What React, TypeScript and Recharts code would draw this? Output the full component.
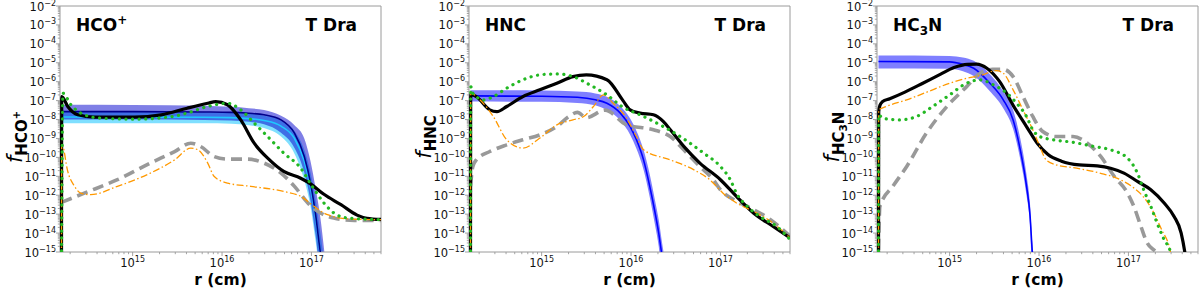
import React from 'react';
import { ComposedChart, Line, Area, XAxis, YAxis, ReferenceArea } from 'recharts';

type Pt = [number, number];
type Band = [number, number, number, number]; // r, low, mid, high

const R_MIN = 1.54e14;
const R_MAX = 6.0e17;
const F_MIN = 1e-15;
const F_MAX = 1e-2;

const X_DECADES = [1e14, 1e15, 1e16, 1e17];
const Y_DECADES = [1e-15, 1e-14, 1e-13, 1e-12, 1e-11, 1e-10, 1e-9, 1e-8, 1e-7, 1e-6, 1e-5, 1e-4, 1e-3, 1e-2];
const MULTS = [1, 2, 3, 4, 5, 6, 7, 8, 9];

// ---- HCO+ ----
const HCO_BLACK: Pt[] = [
  [1.6e14, 1e-16], [1.61e14, 1.64e-7], [1.88e14, 4.9e-8], [2.43e14, 1.78e-8], [3.72e14, 1.33e-8],
  [1.05e15, 1.33e-8], [2.09e15, 1.78e-8], [4.07e15, 3.98e-8], [6.92e15, 7.24e-8], [8.51e15, 8.91e-8],
  [1.15e16, 6.03e-8], [1.62e16, 9.55e-9], [2.29e16, 5.62e-10], [3.24e16, 9.12e-11], [4.9e16, 1.82e-11],
  [7.59e16, 7.94e-12], [9.77e16, 3.98e-12], [1.38e17, 1.12e-12], [2.14e17, 3.16e-13], [3.24e17, 8.91e-14],
  [4.17e17, 6.03e-14], [6.1e17, 5.25e-14],
];
const HCO_GREEN: Pt[] = [
  [1.6e14, 1e-16], [1.66e14, 2.45e-7], [2.04e14, 6.03e-8], [2.88e14, 1.78e-8], [4.47e14, 1.17e-8],
  [1.05e15, 1.05e-8], [2.45e15, 1.32e-8], [4.07e15, 2.19e-8], [6.92e15, 4.9e-8], [1.15e16, 7.24e-8],
  [1.62e16, 3.24e-8], [2.29e16, 6.46e-9], [3.24e16, 1.26e-9], [4.9e16, 1.7e-10], [7.59e16, 2.69e-11],
  [1.02e17, 2.95e-12], [1.38e17, 3.89e-13], [1.78e17, 1.15e-13], [2.51e17, 6.31e-14], [6.1e17, 5.13e-14],
];
const HCO_GRAY: Pt[] = [
  [1.6e14, 4.17e-13], [2.88e14, 1.29e-12], [6.76e14, 6.61e-12], [1.58e15, 5.01e-11], [2.95e15, 2.04e-10],
  [4.47e15, 5.62e-10], [5.75e15, 3.8e-10], [8.13e15, 1.12e-10], [1.15e16, 8.13e-11], [1.91e16, 8.13e-11],
  [2.95e16, 5.01e-11], [4.57e16, 1.48e-11], [6.46e16, 2.95e-12], [9.12e16, 3.89e-13], [1.26e17, 1.15e-13],
  [1.78e17, 6.31e-14], [3.02e17, 4.68e-14], [6.1e17, 4.68e-14],
];
const HCO_ORANGE: Pt[] = [
  [1.6e14, 1e-16], [1.61e14, 4.68e-10], [1.66e14, 3.8e-10], [1.86e14, 2.24e-11], [2.24e14, 2.95e-12],
  [2.63e14, 1.29e-12], [3.39e14, 1.07e-12], [6.76e14, 2.95e-12], [1.58e15, 1.48e-11], [2.95e15, 7.41e-11],
  [4.47e15, 3.09e-10], [5.37e15, 2.51e-10], [6.92e15, 5.01e-11], [8.13e15, 1e-11], [1.15e16, 4.37e-12],
  [2.09e16, 2.95e-12], [4.9e16, 1.58e-12], [7.59e16, 8.71e-13], [1.07e17, 2.57e-13], [1.51e17, 9.33e-14],
  [2.75e17, 5.5e-14], [6.1e17, 5.13e-14],
];
const HCO_BAND: Band[] = [
  [1.6e14, 1e-8, 2.63e-8, 6.03e-8], [1e15, 1e-8, 2.63e-8, 5.89e-8], [6.31e15, 9.55e-9, 2.51e-8, 5.37e-8],
  [1.26e16, 8.91e-9, 2.4e-8, 4.68e-8], [2e16, 7.59e-9, 2.14e-8, 3.98e-8], [2.95e16, 5.62e-9, 1.78e-8, 3.16e-8],
  [4.57e16, 2e-9, 9.55e-9, 1.58e-8], [6.46e16, 3.16e-10, 1.91e-9, 5.01e-9], [8.32e16, 1.58e-11, 1.12e-10, 1e-9],
  [9.77e16, 5.01e-13, 4.37e-12, 6.31e-11], [1.12e17, 6.31e-15, 7.59e-14, 2e-12], [1.26e17, 1e-16, 9.33e-16, 6.31e-14],
  [1.41e17, 1e-16, 1e-16, 6.31e-16],
];
const HCO_BAND2: Band[] = [
  [1.6e14, 6.46e-9, 1.35e-8, 2.51e-8], [6.31e15, 6.31e-9, 1.32e-8, 2.4e-8], [1.26e16, 6.03e-9, 1.26e-8, 2.24e-8],
  [2e16, 5.01e-9, 1.12e-8, 2e-8], [2.95e16, 3.55e-9, 8.91e-9, 1.58e-8], [4.57e16, 1.26e-9, 4.47e-9, 8.91e-9],
  [6.46e16, 1.58e-10, 1e-9, 2.51e-9], [8.32e16, 6.31e-12, 6.31e-11, 2.51e-10], [9.77e16, 2.51e-13, 2.51e-12, 1.58e-11],
  [1.12e17, 3.16e-15, 5.01e-14, 5.01e-13], [1.26e17, 1e-16, 7.94e-16, 1e-14], [1.41e17, 1e-16, 1e-16, 1.58e-16],
];

// ---- HNC ----
const HNC_BLACK: Pt[] = [
  [1.6e14, 1e-16], [1.61e14, 2.2e-7], [1.86e14, 1.62e-7], [2.63e14, 3.24e-8], [3.16e14, 2.63e-8],
  [4.07e14, 4.9e-8], [6.17e14, 1.62e-7], [9.55e14, 3.72e-7], [1.48e15, 8.32e-7], [2.24e15, 1.86e-6],
  [3.16e15, 2.29e-6], [5.37e15, 1.26e-6], [8.13e15, 1e-7], [9.77e15, 3.24e-8], [1.26e16, 2.19e-8],
  [1.78e16, 1.78e-8], [2.29e16, 7.94e-9], [2.75e16, 2.88e-9], [3.89e16, 3.8e-10], [5.89e16, 5.01e-11],
  [1e17, 6.61e-12], [1.51e17, 8.71e-13], [2.34e17, 1.15e-13], [3.89e17, 2.24e-14], [6.03e17, 5.5e-15],
];
const HNC_GREEN: Pt[] = [
  [1.6e14, 1e-16], [1.61e14, 5.5e-7], [1.7e14, 2.45e-7], [2.24e14, 1.1e-7], [2.88e14, 1.62e-7],
  [4.07e14, 4.57e-7], [6.17e14, 1.26e-6], [9.55e14, 2.29e-6], [1.48e15, 2.57e-6], [2.24e15, 1.86e-6],
  [3.47e15, 6.76e-7], [5.37e15, 2e-7], [8.13e15, 4.47e-8], [1.26e16, 1.78e-8], [2.29e16, 4.27e-9],
  [3.55e16, 1.26e-9], [6.46e16, 1.7e-10], [1e17, 3.31e-11], [1.29e17, 6.61e-12], [1.51e17, 1.29e-12],
  [2e17, 2.57e-13], [2.75e17, 7.59e-14], [4.27e17, 2.24e-14], [6.03e17, 4.47e-15],
];
const HNC_GRAY: Pt[] = [
  [1.6e14, 3e-12], [1.7e14, 3.31e-11], [1.86e14, 7.41e-11], [2.63e14, 2.04e-10], [4.07e14, 4.57e-10],
  [6.17e14, 8.51e-10], [9.55e14, 1.55e-9], [1.48e15, 4.27e-9], [2e15, 1.41e-8], [2.51e15, 2.4e-8],
  [3.16e15, 1.26e-8], [5.13e15, 3.16e-8], [8.91e15, 5.25e-9], [1.78e16, 2.88e-9], [2.75e16, 1.26e-9],
  [3.89e16, 2.51e-10], [5.89e16, 3.31e-11], [8.32e16, 6.61e-12], [1e17, 1.95e-12], [1.41e17, 5.75e-13],
  [2e17, 2.57e-13], [3.63e17, 5.13e-14], [6.03e17, 6.76e-15],
];
const HNC_ORANGE: Pt[] = [
  [1.6e14, 1e-16], [1.61e14, 2.45e-7], [2.04e14, 1.1e-7], [2.88e14, 1.45e-8], [4.07e14, 8.51e-10],
  [6.17e14, 3.09e-10], [9.55e14, 1.05e-9], [1.48e15, 5.25e-9], [2.24e15, 9.55e-9], [2.95e15, 1.45e-8],
  [3.8e15, 4.9e-8], [4.9e15, 2e-7], [6.31e15, 7.24e-8], [8.91e15, 1.17e-8], [1.15e16, 1.26e-9],
  [1.38e16, 2.51e-10], [2.75e16, 7.41e-11], [5.01e16, 2.24e-11], [7.59e16, 6.61e-12], [1.07e17, 1.29e-12],
  [1.51e17, 3.89e-13], [2.34e17, 1.41e-13], [3.89e17, 3.39e-14], [6.03e17, 5.5e-15],
];
const HNC_BAND: Band[] = [
  [1.6e14, 8.91e-8, 1.78e-7, 3.55e-7], [1e15, 8.71e-8, 1.7e-7, 3.39e-7], [2.51e15, 7.59e-8, 1.51e-7, 3.02e-7],
  [3.98e15, 5.62e-8, 1.12e-7, 2.4e-7], [5.37e15, 3.16e-8, 7.24e-8, 1.58e-7], [7.59e15, 8.91e-9, 2.19e-8, 5.01e-8],
  [9.77e15, 1.58e-9, 4.27e-9, 1.12e-8], [1.15e16, 2.82e-10, 8.51e-10, 2.51e-9], [1.38e16, 2.24e-11, 7.41e-11, 2.51e-10],
  [1.62e16, 7.94e-13, 2.95e-12, 1.26e-11], [1.86e16, 2.51e-14, 1.15e-13, 5.01e-13], [2.04e16, 2e-15, 1e-14, 5.01e-14],
  [2.19e16, 1e-16, 1e-15, 5.01e-15], [2.4e16, 1e-16, 1e-16, 3.16e-16],
];

// ---- HC3N ----
const HC3N_BLACK: Pt[] = [
  [1.6e14, 1e-16], [1.61e14, 2.51e-8], [1.66e14, 5.62e-8], [1.78e14, 8.91e-8], [2.14e14, 1.26e-7],
  [3.16e14, 2.82e-7], [5.01e14, 8.32e-7], [7.94e14, 2.51e-6], [1.12e15, 5.62e-6], [1.58e15, 8.32e-6],
  [2e15, 8.51e-6], [2.63e15, 5.01e-6], [3.63e15, 1e-6], [5.13e15, 5.62e-8], [7.24e15, 4.27e-9],
  [9.55e15, 5.62e-10], [1.26e16, 1.41e-10], [1.78e16, 6.31e-11], [2.82e16, 3.98e-11], [4.47e16, 3.55e-11],
  [6.31e16, 2.69e-11], [8.91e16, 1.48e-11], [1.26e17, 5.37e-12], [1.78e17, 1.95e-12], [2.51e17, 3.89e-13],
  [3.24e17, 7.59e-14], [3.89e17, 1e-14], [4.27e17, 1e-15], [4.57e17, 1e-16],
];
const HC3N_GREEN: Pt[] = [
  [1.6e14, 1e-16], [1.61e14, 1.78e-8], [1.78e14, 1.17e-8], [2.75e14, 9.55e-9], [4.27e14, 1.45e-8],
  [6.46e14, 4.9e-8], [1e15, 2e-7], [1.55e15, 8.32e-7], [2.19e15, 1.26e-6], [3.09e15, 6.76e-7],
  [4.37e15, 2.45e-7], [5.62e15, 7.24e-8], [7.24e15, 1.45e-8], [8.51e15, 2.88e-9], [1.02e16, 1.26e-9],
  [1.45e16, 8.51e-10], [2.45e16, 6.17e-10], [4.07e16, 3.8e-10], [6.31e16, 2.51e-10], [9.77e16, 9.12e-11],
  [1.26e17, 1.48e-11], [1.48e17, 1.95e-12], [1.78e17, 2.57e-13], [2.09e17, 3.39e-14], [2.51e17, 4.47e-15],
  [2.95e17, 1e-15], [3.16e17, 1e-16],
];
const HC3N_GRAY: Pt[] = [
  [1.6e14, 1.3e-15], [1.66e14, 2.57e-13], [2.34e14, 3.16e-12], [3.31e14, 3.31e-11], [5.5e14, 1.91e-9],
  [9.33e14, 4.9e-8], [1.55e15, 5.5e-7], [2.19e15, 2.82e-6], [3.02e15, 4.47e-6], [3.98e15, 4.47e-6],
  [5.13e15, 1.86e-6], [6.61e15, 1.66e-7], [8.51e15, 1.45e-8], [1.1e16, 2.34e-9], [1.55e16, 1.26e-9],
  [2.4e16, 1.26e-9], [3.47e16, 5.62e-10], [4.9e16, 1.12e-10], [6.92e16, 1e-11], [9.77e16, 1.29e-12],
  [1.15e17, 2.57e-13], [1.38e17, 2.24e-14], [1.62e17, 3.02e-15], [1.95e17, 1.23e-15], [2.51e17, 5e-16],
];
const HC3N_ORANGE: Pt[] = [
  [1.6e14, 1e-16], [1.61e14, 3.24e-8], [1.95e14, 4.9e-8], [3.31e14, 1.1e-7], [6.46e14, 3.72e-7],
  [1e15, 8.32e-7], [1.55e15, 1.51e-6], [2.34e15, 2.29e-6], [3.31e15, 3.89e-6], [3.98e15, 2.82e-6],
  [5.13e15, 3.72e-7], [6.61e15, 3.24e-8], [8.51e15, 2.88e-9], [1.02e16, 3.8e-10], [1.2e16, 7.41e-11],
  [1.55e16, 4.07e-11], [2.63e16, 2.69e-11], [4.79e16, 1.48e-11], [8.13e16, 6.61e-12], [1.15e17, 2.4e-12],
  [1.48e17, 7.94e-13], [1.86e17, 1.58e-13], [2.34e17, 1.58e-14], [2.95e17, 1e-15], [3.16e17, 1e-16],
];
const HC3N_BAND: Band[] = [
  [1.6e14, 5.01e-6, 1.17e-5, 2.4e-5], [1e15, 4.79e-6, 1.12e-5, 2.29e-5], [1.41e15, 3.55e-6, 8.32e-6, 1.91e-5],
  [1.86e15, 2e-6, 5.13e-6, 1.26e-5], [2.82e15, 3.16e-7, 8.32e-7, 2.51e-6], [3.98e15, 3.98e-8, 1.1e-7, 3.16e-7],
  [5.13e15, 3.16e-9, 9.55e-9, 3.16e-8], [6.17e15, 7.94e-11, 2.51e-10, 1e-9], [7.24e15, 1e-12, 3.16e-12, 1.26e-11],
  [7.94e15, 2.51e-14, 7.94e-14, 3.16e-13], [8.41e15, 1e-16, 1e-15, 3.16e-15], [8.91e15, 1e-16, 1e-16, 3.16e-16],
];

const X_TICKS = X_DECADES.flatMap((d) => MULTS.map((m) => m * d)).filter((v) => v >= R_MIN && v <= R_MAX);
const Y_TICKS = Y_DECADES.flatMap((d, i) => (i === Y_DECADES.length - 1 ? [d] : MULTS.map((m) => m * d)));

const FONT = 'DejaVu Sans, sans-serif';
const FRAME = '#9a9a9a';

const toRows = (pts: Pt[]) => pts.map(([r, f]) => ({ r, f }));
const toBand = (b: Band[]) => b.map(([r, lo, mid, hi]) => ({ r, range: [lo, hi], mid }));

const isMajor = (v: number) => {
  const l = Math.log10(v);
  return Math.abs(l - Math.round(l)) < 1e-6;
};

const XTick = (props: any) => {
  const { x, y, payload } = props;
  const major = isMajor(payload.value);
  const e = Math.round(Math.log10(payload.value));
  return (
    <g>
      <line x1={x} x2={x} y1={y} y2={y + (major ? 4 : 2.2)} stroke={FRAME} strokeWidth={0.9} />
      {major && (
        <text x={x} y={y + 15} textAnchor="middle" fontSize={11.5} fontFamily={FONT} fill="#111">
          <tspan>10</tspan>
          <tspan dy={-5} fontSize={8}>{e}</tspan>
        </text>
      )}
    </g>
  );
};

const YTick = (props: any) => {
  const { x, y, payload } = props;
  const major = isMajor(payload.value);
  const e = Math.round(Math.log10(payload.value));
  return (
    <g>
      <line x1={x - (major ? 4 : 2.2)} x2={x} y1={y} y2={y} stroke={FRAME} strokeWidth={0.9} />
      {major && (
        <text x={x - 4} y={y + 4.5} textAnchor="end" fontSize={11.5} fontFamily={FONT} fill="#111">
          <tspan>10</tspan>
          <tspan dy={-5} fontSize={8}>{'\u2212' + Math.abs(e)}</tspan>
        </text>
      )}
    </g>
  );
};

interface BandSpec {
  data: Band[];
  fill: string;
  opacity: number;
  line: string;
}

interface PanelSpec {
  name: string;
  left: number;
  width: number;
  bands: BandSpec[];
  gray: Pt[];
  black: Pt[];
  orange: Pt[];
  green: Pt[];
  title: React.ReactNode;
  sub: React.ReactNode;
}

const PANELS: PanelSpec[] = [
  {
    name: 'hco',
    left: 0,
    width: 390,
    // cyan band under, dark blue band over it (as in the figure)
    bands: [
      { data: HCO_BAND2, fill: '#00bfff', opacity: 0.5, line: '#1ec8ff' },
      { data: HCO_BAND, fill: '#0000cd', opacity: 0.5, line: '#00008b' },
    ],
    gray: HCO_GRAY,
    black: HCO_BLACK,
    orange: HCO_ORANGE,
    green: HCO_GREEN,
    title: (
      <>
        <tspan>HCO</tspan>
        <tspan dy={-7} fontSize={12}>+</tspan>
      </>
    ),
    sub: (
      <>
        <tspan dy={5} fontWeight="bold" fontSize={15}>HCO</tspan>
        <tspan dy={-7} fontWeight="bold" fontSize={10}>+</tspan>
      </>
    ),
  },
  {
    name: 'hnc',
    left: 409,
    width: 390,
    bands: [{ data: HNC_BAND, fill: '#0000ff', opacity: 0.5, line: '#0000ff' }],
    gray: HNC_GRAY,
    black: HNC_BLACK,
    orange: HNC_ORANGE,
    green: HNC_GREEN,
    title: <tspan>HNC</tspan>,
    sub: (
      <tspan dy={5} fontWeight="bold" fontSize={15}>HNC</tspan>
    ),
  },
  {
    name: 'hc3n',
    left: 817,
    width: 383,
    bands: [{ data: HC3N_BAND, fill: '#0000ff', opacity: 0.5, line: '#0000ff' }],
    gray: HC3N_GRAY,
    black: HC3N_BLACK,
    orange: HC3N_ORANGE,
    green: HC3N_GREEN,
    title: (
      <>
        <tspan>HC</tspan>
        <tspan dy={4} fontSize={12}>3</tspan>
        <tspan dy={-4}>N</tspan>
      </>
    ),
    sub: (
      <>
        <tspan dy={5} fontWeight="bold" fontSize={15}>HC</tspan>
        <tspan dy={3} fontWeight="bold" fontSize={10.5}>3</tspan>
        <tspan dy={-3} fontWeight="bold" fontSize={15}>N</tspan>
      </>
    ),
  },
];

const Panel = ({ p }: { p: PanelSpec }) => {
  const plotLeft = 60;
  const plotW = 321;
  return (
    <div style={{ position: 'absolute', left: p.left, top: 0, width: p.width, height: 288 }}>
      <ComposedChart
        width={p.width}
        height={288}
        margin={{ top: 6, right: p.width - plotLeft - plotW, left: 0, bottom: 0 }}
      >
        <XAxis
          dataKey="r"
          type="number"
          scale="log"
          domain={[R_MIN, R_MAX]}
          allowDataOverflow
          ticks={X_TICKS}
          interval={0}
          tickSize={0}
          tickMargin={0}
          tick={(t: any) => <XTick {...t} />}
          axisLine={false}
          height={36}
        />
        <YAxis
          type="number"
          scale="log"
          domain={[F_MIN, F_MAX]}
          allowDataOverflow
          ticks={Y_TICKS}
          interval={0}
          tickSize={0}
          tickMargin={0}
          tick={(t: any) => <YTick {...t} />}
          axisLine={false}
          width={60}
        />
        {p.bands.map((b, i) => (
          <Area
            key={'band' + i}
            data={toBand(b.data)}
            dataKey="range"
            type="monotone"
            stroke="none"
            fill={b.fill}
            fillOpacity={b.opacity}
            isAnimationActive={false}
            dot={false}
            activeDot={false}
          />
        ))}
        {p.bands.map((b, i) => (
          <Line
            key={'mid' + i}
            data={toBand(b.data)}
            dataKey="mid"
            type="monotone"
            stroke={b.line}
            strokeWidth={1.6}
            dot={false}
            activeDot={false}
            isAnimationActive={false}
          />
        ))}
        <Line
          data={toRows(p.gray)}
          dataKey="f"
          type="monotone"
          stroke="#999999"
          strokeWidth={3.6}
          strokeDasharray="11 6"
          dot={false}
          activeDot={false}
          isAnimationActive={false}
        />
        <Line
          data={toRows(p.black)}
          dataKey="f"
          type="monotone"
          stroke="#000000"
          strokeWidth={3.2}
          dot={false}
          activeDot={false}
          isAnimationActive={false}
        />
        <Line
          data={toRows(p.orange)}
          dataKey="f"
          type="monotone"
          stroke="#ff9900"
          strokeWidth={1.3}
          strokeDasharray="7 2.5 1.5 2.5"
          dot={false}
          activeDot={false}
          isAnimationActive={false}
        />
        <Line
          data={toRows(p.green)}
          dataKey="f"
          type="monotone"
          stroke="#22b822"
          strokeWidth={3.2}
          strokeDasharray="0.1 6.5"
          strokeLinecap="round"
          dot={false}
          activeDot={false}
          isAnimationActive={false}
        />
        <ReferenceArea
          x1={R_MIN}
          x2={R_MAX}
          y1={F_MIN}
          y2={F_MAX}
          fill="none"
          stroke={FRAME}
          strokeWidth={1}
          ifOverflow="visible"
        />
      </ComposedChart>
      <svg
        width={p.width}
        height={288}
        style={{ position: 'absolute', left: 0, top: 0, pointerEvents: 'none' }}
        fontFamily={FONT}
      >
        <text x={plotLeft + 16} y={31} fontSize={17} fontWeight="bold" fill="#000">
          {p.title}
        </text>
        <text x={plotLeft + 297} y={31} fontSize={17} fontWeight="bold" fill="#000" textAnchor="end">
          T Dra
        </text>
        <text x={plotLeft + plotW / 2} y={285} fontSize={15.5} fontWeight="bold" fill="#000" textAnchor="middle">
          r (cm)
        </text>
        <text transform="translate(22,137) rotate(-90)" textAnchor="middle" fill="#000">
          <tspan fontStyle="italic" fontSize={21}>f</tspan>
          {p.sub}
        </text>
      </svg>
    </div>
  );
};

export default function App() {
  return (
    <div
      style={{
        position: 'absolute',
        left: 0,
        top: 0,
        width: 1200,
        height: 288,
        overflow: 'hidden',
        background: '#fff',
        fontFamily: FONT,
      }}
    >
      {PANELS.map((p) => (
        <Panel key={p.name} p={p} />
      ))}
    </div>
  );
}
